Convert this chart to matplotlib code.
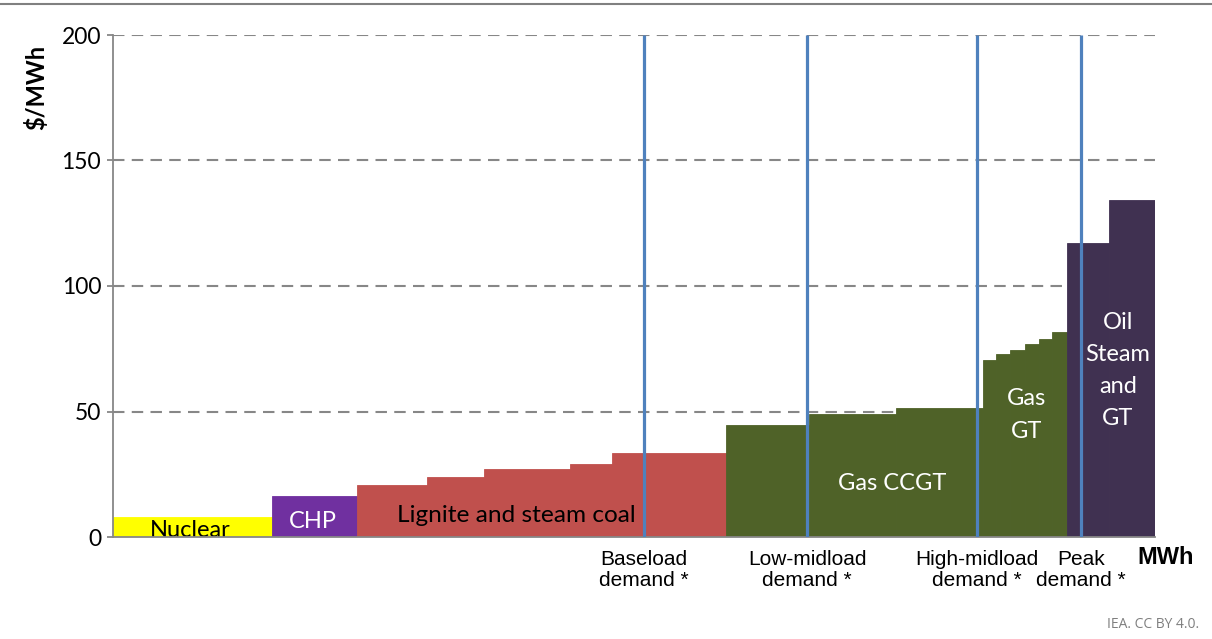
import matplotlib
matplotlib.use("Agg")
import matplotlib.pyplot as plt
from matplotlib.lines import Line2D

# merit order blocks: capacity width (arbitrary MWh units) and marginal cost ($/MWh)
tech = ['Nuclear', 'CHP',
        'Coal', 'Coal', 'Coal', 'Coal', 'Coal',
        'CCGT', 'CCGT', 'CCGT',
        'GT', 'GT', 'GT', 'GT', 'GT', 'GT',
        'Oil', 'Oil']
widths = [15.9, 8.5, 7.0, 5.7, 8.6, 4.2, 11.4, 8.3, 8.7, 8.7,
          1.3, 1.4, 1.5, 1.4, 1.3, 1.5, 4.2, 4.6]
costs = [8.0, 16.3, 20.6, 23.8, 27.1, 29.1, 33.5, 44.6, 49.0, 51.4,
         70.5, 72.9, 74.5, 76.9, 79.0, 81.7, 117.2, 134.3]

tech_colors = {'Nuclear': '#FFFF00', 'CHP': '#7030A0', 'Coal': '#C0504D',
               'CCGT': '#4F6228', 'GT': '#4F6228', 'Oil': '#403151'}

demand_labels = ['Baseload\ndemand *', 'Low-midload\ndemand *',
                 'High-midload\ndemand *', 'Peak\ndemand *']
demand_x = [53.1, 69.4, 86.4, 96.8]

yticks = [0, 50, 100, 150, 200]

grey = '#878787'
calibri = ['Lato', 'DejaVu Sans']
arial = ['Liberation Sans', 'DejaVu Sans']

fig = plt.figure(figsize=(12.12, 6.39), dpi=100)
ax = fig.add_axes([113/1212, (639-537)/639, (1155-113)/1212, (537-35)/639])

lefts = [sum(widths[:i]) for i in range(len(widths))]
cols = [tech_colors[t] for t in tech]
ax.bar(lefts, costs, width=widths, align='edge', color=cols,
       edgecolor=cols, linewidth=0.6, zorder=2)

ax.vlines(demand_x, 0, 200, color='#4F81BD', lw=2.3, zorder=3)

ax.set_xlim(0, sum(widths))
ax.set_ylim(0, 200)
ax.set_yticks(yticks)
ax.set_yticklabels([str(v) for v in yticks], fontsize=16.5, family=calibri)
ax.set_xticks([])
ax.tick_params(axis='y', length=4.5, width=1.3, color=grey, pad=4)
ax.grid(axis='y', color=grey, lw=1.5, linestyle=(0, (5.5, 3.5)))
ax.set_axisbelow(True)
for s in ['top', 'right']:
    ax.spines[s].set_visible(False)
for s in ['left', 'bottom']:
    ax.spines[s].set_color(grey)
    ax.spines[s].set_linewidth(1.3)

# block labels
ax.text(7.7, 0, 'Nuclear', ha='center', va='baseline', fontsize=17,
        family=calibri, color='black', zorder=2.5)
ax.text(20.0, 3.6, 'CHP', ha='center', va='baseline', fontsize=17,
        family=calibri, color='white', zorder=4)
ax.text(40.3, 6.0, 'Lignite and steam coal', ha='center', va='baseline',
        fontsize=17.6, family=calibri, color='black', zorder=4)
ax.text(77.9, 18.7, 'Gas CCGT', ha='center', va='baseline', fontsize=17,
        family=calibri, color='white', zorder=4)
ax.text(91.4, 48.6, 'Gas\nGT', ha='center', va='center', fontsize=17,
        family=calibri, color='white', linespacing=1.65, zorder=4)
ax.text(100.5, 66.5, 'Oil\nSteam\nand\nGT', ha='center', va='center',
        fontsize=17, family=calibri, color='white', linespacing=1.65, zorder=4)

# demand labels under the axis
for lab, xv in zip(demand_labels, demand_x):
    ax.text(xv, -5.3, lab, ha='center', va='top', fontsize=15,
            family=arial, color='black', linespacing=1.1)

fig.text(1166/1212, 1 - 557/639, 'MWh', ha='center', va='center',
         fontsize=17, family=arial, fontweight='bold')
fig.text(36/1212, 1 - 87/639, '$/MWh', ha='center', va='center',
         rotation=90, fontsize=17, family=calibri, fontweight='bold')
fig.text(1199/1212, 1 - 625/639, 'IEA. CC BY 4.0.', ha='right', va='center',
         fontsize=10, family=['Open Sans', 'DejaVu Sans'], color='#7f7f7f')

fig.add_artist(Line2D([0, 1], [1 - 4/639, 1 - 4/639], color='#808080', lw=1.5))

fig.savefig('out.png', dpi=100)
